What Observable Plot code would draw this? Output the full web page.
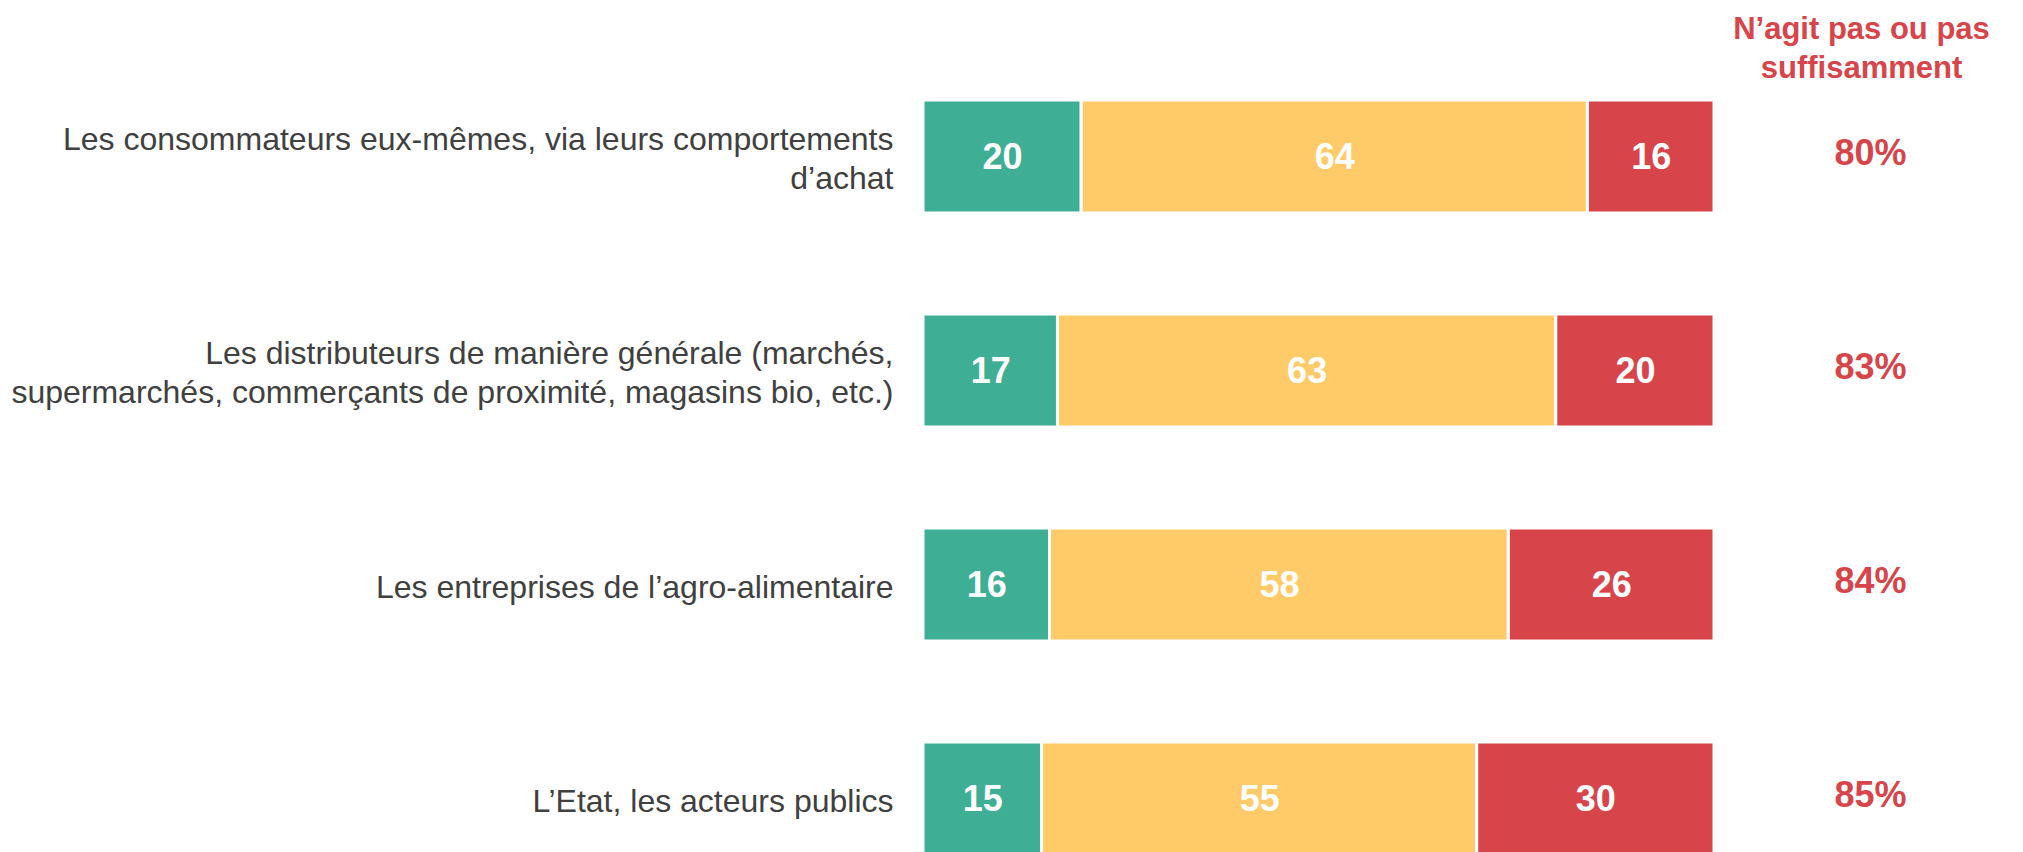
<!DOCTYPE html>
<html>
<head>
<meta charset="utf-8">
<script src="https://cdn.jsdelivr.net/npm/d3@7"></script>
<script src="https://cdn.jsdelivr.net/npm/@observablehq/plot@0.6"></script>
<style>
  html, body { margin: 0; padding: 0; background: #fff; overflow: hidden; }
</style>
</head>
<body>
<div id="chart"></div>
<script>
const categories = [
  "Les consommateurs eux-mêmes, via leurs comportements\nd’achat",
  "Les distributeurs de manière générale (marchés,\nsupermarchés, commerçants de proximité, magasins bio, etc.)",
  "Les entreprises de l’agro-alimentaire",
  "L’Etat, les acteurs publics"
];
const groups = ["Agit suffisamment", "N’agit pas suffisamment", "N’agit pas du tout"];
const colors = ["#3EAE95", "#FECB68", "#D7444A"];
const agit = [20, 17, 16, 15];
const agitPasSuffisamment = [64, 63, 58, 55];
const agitPasDuTout = [16, 20, 26, 30];
const totalNegatif = [80, 83, 84, 85];
const header = "N’agit pas ou pas\nsuffisamment";

const series = [agit, agitPasSuffisamment, agitPasDuTout];
const table = [];
categories.forEach((c, i) => {
  groups.forEach((g, j) => table.push({cat: c, group: g, value: series[j][i]}));
});
const totals = categories.map((c, i) => ({cat: c, pct: totalNegatif[i] + "%"}));

const font = "'Liberation Sans', Arial, Helvetica, sans-serif";

const chart = Plot.plot({
  width: 2023,
  height: 852,
  marginLeft: 923,
  marginRight: 309,
  marginTop: 0,
  marginBottom: 0,
  style: {fontFamily: font, background: "#fff", overflow: "visible"},
  x: {domain: [0, 100], axis: null},
  y: {domain: categories, range: [-2.6, 957.4], padding: 0.4734, axis: null},
  color: {domain: groups, range: colors},
  marks: [
    Plot.barX(table, Plot.stackX({x: "value", y: "cat", fill: "group", order: null, stroke: "white", strokeWidth: 3})),
    Plot.textX(table, Plot.stackX({x: "value", y: "cat", z: "group", order: null, text: d => String(d.value),
      fill: "white", fontSize: 36, fontWeight: "bold"})),
    Plot.axisY({anchor: "left", tickSize: 0, tickPadding: 30, fontSize: 32, lineHeight: 1.22, fill: "#404040", label: null}),
    Plot.text(totals, {y: "cat", text: "pct", frameAnchor: "right", dx: 156, dy: -4, textAnchor: "middle",
      fill: "#D7444A", fontSize: 36, fontWeight: "bold"}),
    Plot.text([header], {frameAnchor: "top-right", dx: 147, dy: 11, lineAnchor: "top", textAnchor: "middle",
      lineHeight: 1.26, fill: "#D7444A", fontSize: 31, fontWeight: "bold"})
  ]
});
document.getElementById("chart").appendChild(chart);
</script>
</body>
</html>
